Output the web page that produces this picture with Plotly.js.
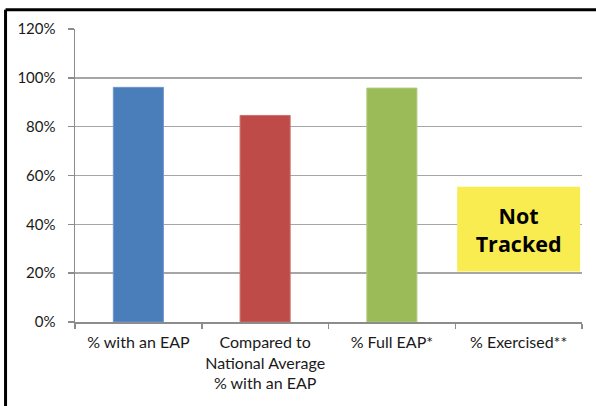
<!DOCTYPE html>
<html>
<head>
<meta charset="utf-8">
<script src="https://cdn.plot.ly/plotly-3.0.1.min.js"></script>
<style>
  html, body { margin: 0; padding: 0; background: #ffffff; }
  #chart { width: 596px; height: 406px; }
</style>
</head>
<body>
<div id="chart"></div>
<script>
// Data
const categories = [
  "% with an EAP",
  "Compared to<br>National Average<br>% with an EAP",
  "% Full EAP*",
  "% Exercised**"
];
const values = [0.961, 0.846, 0.958, null];
const barColors = ["#4a7ebb", "#be4b48", "#9bbb59", "#9bbb59"];
const barLineColors = ["#6f97c9", "#cc6f6c", "#b0cb7c", "#b0cb7c"];

// "Not Tracked" box: spans a range on the y axis at the last category
const notTrackedCategory = ["% Exercised**"];
const notTrackedBase = [0.207];
const notTrackedTop = [0.554];
const notTrackedLabel = ["<b>Not<br>Tracked</b>"];

const yTickVals = [0, 0.2, 0.4, 0.6, 0.8, 1.0, 1.2];

const FONT = "Lato, Open Sans, DejaVu Sans, sans-serif";
const BOLDFONT = "Open Sans, Lato, DejaVu Sans, sans-serif";

const traces = [
  {
    type: "bar",
    x: categories,
    y: values,
    width: 0.395,
    marker: { color: barColors, line: { color: barLineColors, width: 1 } },
    hoverinfo: "skip"
  },
  {
    type: "bar",
    x: notTrackedCategory,
    y: notTrackedTop.map((t, i) => t - notTrackedBase[i]),
    base: notTrackedBase,
    width: 0.97,
    marker: { color: "#f9ec50", line: { width: 0 } },
    text: notTrackedLabel,
    textposition: "inside",
    insidetextanchor: "middle",
    textangle: 0,
    textfont: { family: BOLDFONT, size: 21.5, color: "#000000" },
    hoverinfo: "skip"
  }
];

const layout = {
  width: 596,
  height: 406,
  margin: { l: 75, r: 14, t: 29, b: 84 },
  paper_bgcolor: "#ffffff",
  plot_bgcolor: "#ffffff",
  showlegend: false,
  barmode: "overlay",
  font: { family: FONT, size: 15, color: "#1a1a1a" },
  xaxis: {
    type: "category",
    range: [-0.5, 3.5],
    showline: true,
    linecolor: "#8c8c8c",
    linewidth: 1.5,
    ticks: "outside",
    tickson: "boundaries",
    ticklen: 5,
    tickcolor: "#8c8c8c",
    tickwidth: 1.5,
    showgrid: false,
    tickangle: 0,
    tickfont: { family: FONT, size: 16, color: "#1a1a1a" },
    ticklabelstandoff: 5,
    fixedrange: true
  },
  yaxis: {
    range: [0, 1.2],
    tickvals: yTickVals,
    tickformat: ".0%",
    showline: true,
    linecolor: "#8c8c8c",
    linewidth: 1.5,
    ticks: "outside",
    ticklen: 6,
    tickcolor: "#8c8c8c",
    tickwidth: 1.5,
    showgrid: true,
    gridcolor: "#a6a6a6",
    gridwidth: 1.5,
    zeroline: false,
    tickfont: { family: FONT, size: 15, color: "#1a1a1a" },
    ticklabelstandoff: 9,
    fixedrange: true
  },
  shapes: [
    { type: "line", xref: "paper", yref: "paper", x0: -0.137, x1: 1.05, y0: 1.066, y1: 1.066,
      line: { color: "#000000", width: 3 } },
    { type: "line", xref: "paper", yref: "paper", x0: -0.137, x1: -0.137, y0: 1.066, y1: -0.35,
      line: { color: "#000000", width: 3 } }
  ]
};

Plotly.newPlot("chart", traces, layout, { displayModeBar: false, staticPlot: true });
</script>
</body>
</html>
